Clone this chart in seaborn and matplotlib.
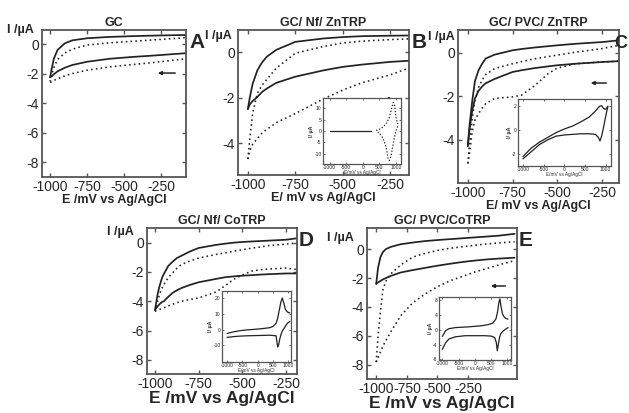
import matplotlib
matplotlib.use("Agg")
import matplotlib.pyplot as plt
import seaborn as sns

sns.set_style("ticks", {"xtick.direction": "in", "ytick.direction": "in"})
plt.rcParams['font.family'] = ['Liberation Sans', 'DejaVu Sans']
plt.rcParams['axes.unicode_minus'] = False

# ---- data ----
# panel A : GC
A_x = [-1000, -990, -975, -950, -900, -850, -750, -600, -450, -300, -150, -80]
A_solid_up = [-2.25, -1.7, -1.0, -0.4, 0.05, 0.25, 0.39, 0.48, 0.53, 0.57, 0.6, 0.61]
A_solid_lo = [-2.25, -2.18, -2.05, -1.85, -1.6, -1.42, -1.2, -1.0, -0.88, -0.78, -0.67, -0.62]
A_dot_up = [-2.55, -2.1, -1.6, -1.05, -0.6, -0.35, -0.07, 0.08, 0.18, 0.28, 0.38, 0.43]
A_dot_lo = [-2.6, -2.55, -2.47, -2.35, -2.15, -2.0, -1.77, -1.55, -1.4, -1.25, -1.08, -1.0]

# panel B : GC/ Nf/ ZnTRP
B_x = [-1000, -990, -975, -950, -925, -900, -850, -750, -600, -500, -400, -250, -150]
B_solid_up = [-2.5, -2.0, -1.4, -0.8, -0.45, -0.2, 0.1, 0.45, 0.6, 0.66, 0.7, 0.72, 0.73]
B_solid_lo = [-2.5, -2.3, -2.15, -1.97, -1.75, -1.6, -1.35, -1.08, -0.8, -0.65, -0.55, -0.43, -0.38]
B_dot_up = [-4.7, -3.8, -2.7, -1.8, -1.45, -1.2, -0.7, -0.05, 0.25, 0.4, 0.48, 0.55, 0.58]
B_dot_lo = [-4.7, -4.35, -4.05, -3.8, -3.55, -3.4, -3.1, -2.7, -2.05, -1.67, -1.35, -1.0, -0.7]

# panel C : GC/ PVC/ ZnTRP
C_x = [-1000, -990, -975, -960, -940, -920, -900, -850, -750, -700, -625, -550, -500, -400, -250, -155]
C_solid_up = [-4.3, -3.3, -2.2, -1.3, -0.8, -0.5, -0.26, -0.08, 0.12, 0.18, 0.25, 0.31, 0.35, 0.42, 0.5, 0.58]
C_solid_lo = [-4.3, -3.5, -2.65, -2.1, -1.75, -1.55, -1.4, -1.2, -0.88, -0.8, -0.7, -0.62, -0.57, -0.5, -0.42, -0.38]
C_dot_up = [-5.1, -4.2, -3.0, -2.2, -1.6, -1.25, -1.0, -0.72, -0.5, -0.4, -0.27, -0.17, -0.1, 0.03, 0.2, 0.35]
C_dot_lo = [-5.1, -4.6, -3.6, -3.1, -2.8, -2.55, -2.34, -2.1, -2.03, -1.95, -1.5, -0.95, -0.7, -0.5, -0.42, -0.38]

# panel D : GC/ Nf/ CoTRP
D_x = [-1000, -985, -975, -960, -950, -925, -900, -875, -850, -800, -750, -650, -600, -550, -500, -450, -400, -350, -250, -187]
D_solid_up = [-4.57, -3.5, -3.0, -2.4, -2.15, -1.6, -1.3, -1.05, -0.9, -0.6, -0.36, -0.15, -0.07, 0.0, 0.05, 0.08, 0.11, 0.14, 0.2, 0.3]
D_solid_lo = [-4.57, -4.35, -4.2, -4.05, -4.0, -3.7, -3.43, -3.25, -3.1, -2.88, -2.7, -2.47, -2.36, -2.3, -2.25, -2.22, -2.18, -2.15, -2.1, -2.1]
D_dot_up = [-4.68, -4.0, -3.55, -3.1, -2.86, -2.4, -2.07, -1.75, -1.5, -1.25, -1.05, -0.8, -0.7, -0.58, -0.48, -0.38, -0.3, -0.2, -0.1, -0.02]
D_dot_lo = [-4.68, -4.6, -4.55, -4.5, -4.45, -4.32, -4.2, -4.1, -4.0, -3.88, -3.77, -3.36, -2.95, -2.5, -2.2, -1.95, -1.85, -1.8, -1.73, -1.84]

# panel E : GC/ PVC/CoTRP
E_x = [-1000, -985, -965, -945, -920, -880, -800, -700, -600, -500, -400, -300, -200, -100, 0, 130]
E_solid_up = [-2.4, -1.3, -0.55, -0.2, 0.0, 0.15, 0.33, 0.45, 0.55, 0.62, 0.68, 0.74, 0.8, 0.86, 0.92, 1.05]
E_solid_lo = [-2.4, -2.3, -2.2, -2.1, -2.0, -1.85, -1.62, -1.45, -1.3, -1.15, -1.02, -0.9, -0.8, -0.72, -0.66, -0.6]
E_dot_up = [-7.8, -6.0, -4.3, -2.8, -2.2, -1.7, -1.1, -0.55, -0.3, -0.1, 0.05, 0.15, 0.25, 0.35, 0.42, 0.5]
E_dot_lo = [-7.8, -7.5, -7.1, -6.7, -6.3, -5.7, -4.6, -3.7, -3.1, -2.6, -2.2, -1.9, -1.6, -1.35, -1.1, -0.8]

# insets (full CV, -1000..1050 mV)
Bi_flat_x = [-1000, 250]
Bi_flat_y = [0, 0]
Bi_fwd_x = [400, 550, 700, 800, 870, 920, 960, 1000, 1050]
Bi_fwd_y = [0.2, 1, 3, 6, 10, 12.5, 11, 6, 3]
Bi_rev_x = [1050, 1000, 950, 900, 850, 800, 760, 700, 600, 500, 400]
Bi_rev_y = [2, 0, -3, -7, -11, -13, -12, -7, -3, -1, 0]

Ci_fwd_x = [-1000, -800, -600, -400, -200, 0, 200, 400, 600, 750, 850, 900, 950, 1000, 1050]
Ci_fwd_y = [-2.2, -1.5, -1.0, -0.6, -0.2, 0.1, 0.35, 0.7, 1.1, 1.6, 2.0, 2.05, 1.8, 1.75, 2.0]
Ci_rev_x = [1050, 1000, 950, 900, 860, 820, 750, 600, 400, 200, 0, -200, -400, -600, -800, -1000]
Ci_rev_y = [2.0, 1.2, 0.3, -0.5, -0.9, -0.6, -0.35, -0.3, -0.3, -0.35, -0.4, -0.5, -0.8, -1.2, -1.8, -2.4]

Di_fwd_x = [-1000, -800, -600, -400, -200, 0, 200, 400, 500, 600, 650, 700, 750, 800, 850, 900, 950, 1000, 1050]
Di_fwd_y = [-2.5, -1.5, -0.8, -0.3, 0.0, 0.3, 0.7, 1.2, 2.0, 4, 7, 12, 17, 20, 17, 13, 11.5, 10.8, 10.5]
Di_rev_x = [1050, 1000, 950, 900, 850, 800, 760, 720, 680, 650, 600, 400, 200, 0, -200, -400, -600, -800, -1000]
Di_rev_y = [5, 4.6, 3.5, 2, 0.5, -1, -3, -6, -10, -11, -4, -3.6, -3.7, -3.8, -3.9, -4.0, -4.2, -4.5, -5]

Ei_fwd_x = [-1000, -900, -800, -600, -400, -200, 0, 200, 400, 550, 650, 700, 740, 770, 800, 850, 900, 950, 1020]
Ei_fwd_y = [-1.8, -0.2, 0.3, 0.6, 0.7, 0.8, 0.95, 1.1, 1.4, 1.8, 3.0, 5.0, 7.5, 8.4, 6.5, 4.3, 3.5, 3.1, 2.9]
Ei_rev_x = [1020, 950, 870, 800, 760, 720, 690, 660, 610, 500, 300, 0, -300, -600, -800, -900, -1000]
Ei_rev_y = [0.6, 0.2, -0.3, -1.0, -2.0, -4.0, -5.7, -3.5, -2.1, -1.7, -1.6, -1.6, -1.6, -1.9, -2.5, -3.5, -5.3]

LINE = '#222222'
SPINE = '#555555'


def style_axes(ax, fs):
    for s in ax.spines.values():
        s.set_color(SPINE)
        s.set_linewidth(1.3)
    ax.tick_params(direction='in', top=True, right=True, length=3, width=1,
                   color=SPINE, labelsize=fs, pad=2)


def main_panel(ax, x, s_up, s_lo, d_up, d_lo, xlim, ylim, yticks, title, xlabel, xl_fs, tick_fs, ylab_xy, arrow):
    for yy in (s_up, s_lo):
        sns.lineplot(x=x, y=yy, ax=ax, color=LINE, lw=1.25, sort=False, estimator=None)
    for yy in (d_up, d_lo):
        sns.lineplot(x=x, y=yy, ax=ax, color=LINE, lw=1.15, linestyle=(0, (1, 2)),
                     sort=False, estimator=None)
    ax.set_xlim(*xlim)
    ax.set_ylim(*ylim)
    ax.set_xticks([-1000, -750, -500, -250])
    ax.set_yticks(yticks)
    style_axes(ax, tick_fs)
    ax.set_title(title, fontsize=9, fontweight='bold', pad=3)
    ax.set_xlabel(xlabel, fontsize=xl_fs, fontweight='bold', labelpad=0)
    ax.set_ylabel('')
    ax.text(ylab_xy[0], ylab_xy[1], 'I /µA', transform=ax.transAxes, fontsize=9,
            fontweight='bold', ha='left', va='center')
    ax.annotate('', xy=(arrow[0], arrow[2]), xytext=(arrow[1], arrow[2]),
                xycoords='axes fraction', textcoords='axes fraction',
                arrowprops=dict(arrowstyle='-|>', color=LINE, lw=1.1, mutation_scale=5))


def inset(ax, curves, ylim, yticks, xlim):
    for cx, cy, ls in curves:
        sns.lineplot(x=cx, y=cy, ax=ax, color=LINE, lw=0.9, linestyle=ls,
                     sort=False, estimator=None)
    ax.set_xlim(*xlim)
    ax.set_ylim(*ylim)
    ax.set_xticks([-1000, -500, 0, 500, 1000])
    ax.set_yticks(yticks)
    for s in ax.spines.values():
        s.set_color(SPINE)
        s.set_linewidth(0.9)
    ax.tick_params(direction='in', top=True, right=True, length=1.5, width=0.6,
                   color=SPINE, labelsize=3.6, pad=1)
    ax.set_xlabel('E/mV vs Ag/AgCl', fontsize=3.4, labelpad=0)
    ax.set_ylabel('I/ µA', fontsize=3.8, fontweight='bold', labelpad=0)


fig = plt.figure(figsize=(6.29, 4.13), dpi=100)

axA = fig.add_axes([0.0668, 0.5714, 0.229, 0.356])
main_panel(axA, A_x, A_solid_up, A_solid_lo, A_dot_up, A_dot_lo, (-1055, -80), (-9, 0.95),
           [0, -2, -4, -6, -8], 'GC', 'E /mV vs Ag/AgCl', 9, 10, (-0.243, 1.0), (0.785, 0.944, 0.707))

axB = fig.add_axes([0.3784, 0.5763, 0.272, 0.351])
main_panel(axB, B_x, B_solid_up, B_solid_lo, B_dot_up, B_dot_lo, (-1052, -150), (-5.4, 0.97),
           [0, -2, -4], 'GC/ Nf/ ZnTRP', 'E/ mV vs Ag/AgCl', 9, 10, (-0.193, 0.96), (0.842, 0.971, 0.524))

axC = fig.add_axes([0.7281, 0.557, 0.256, 0.370])
main_panel(axC, C_x, C_solid_up, C_solid_lo, C_dot_up, C_dot_lo, (-1055, -155), (-6.0, 1.05),
           [0, -2, -4], 'GC/ PVC/ ZnTRP', 'E/ mV vs Ag/AgCl', 9, 10, (-0.186, 0.955), (0.807, 0.938, 0.654))

axD = fig.add_axes([0.2337, 0.0944, 0.2385, 0.3535])
main_panel(axD, D_x, D_solid_up, D_solid_lo, D_dot_up, D_dot_lo, (-1046, -187), (-8.96, 1.0),
           [0, -2, -4, -6, -8], 'GC/ Nf/ CoTRP', 'E /mV vs Ag/AgCl', 12.5, 10, (-0.267, 0.973), (0.80, 0.94, 0.541))

axE = fig.add_axes([0.5835, 0.0823, 0.2385, 0.3656])
main_panel(axE, E_x, E_solid_up, E_solid_lo, E_dot_up, E_dot_lo, (-1075, 150), (-8.97, 1.45),
           [0, -2, -4, -6, -8], 'GC/ PVC/CoTRP', 'E /mV vs Ag/AgCl', 12.5, 10, (-0.267, 0.934), (0.807, 0.94, 0.616))

dots = (0, (1, 1.5))
inB = fig.add_axes([0.5135, 0.603, 0.124, 0.16])
inset(inB, [(Bi_flat_x, Bi_flat_y, '-'), (Bi_fwd_x, Bi_fwd_y, dots), (Bi_rev_x, Bi_rev_y, dots)],
      (-14.5, 14.5), [-10, -5, 0, 5, 10], (-1200, 1150))

inC = fig.add_axes([0.8235, 0.598, 0.148, 0.162])
inset(inC, [(Ci_fwd_x, Ci_fwd_y, '-'), (Ci_rev_x, Ci_rev_y, '-')],
      (-3.0, 2.6), [-2, 0, 2], (-1120, 1128))

inD = fig.add_axes([0.353, 0.1235, 0.1097, 0.172])
inset(inD, [(Di_fwd_x, Di_fwd_y, '-'), (Di_rev_x, Di_rev_y, '-')],
      (-20.6, 24.5), [-10, 0, 10, 20], (-1164, 1087))

inE = fig.add_axes([0.698, 0.1283, 0.1145, 0.1525])
inset(inE, [(Ei_fwd_x, Ei_fwd_y, '-'), (Ei_rev_x, Ei_rev_y, '-')],
      (-8.2, 8.9), [-8, -4, 0, 4, 8], (-1103, 1113))

# panel letters
for lab, px, py, fs, ha in [('A', 0.302, 0.874, 15, 'left'), ('B', 0.655, 0.874, 15, 'left'),
                            ('C', 0.998, 0.874, 13, 'right'),
                            ('D', 0.475, 0.395, 15, 'left'), ('E', 0.824, 0.395, 15, 'left')]:
    fig.text(px, py, lab, fontsize=fs, fontweight='bold', ha=ha, va='bottom')

fig.savefig('out.png', dpi=100)
